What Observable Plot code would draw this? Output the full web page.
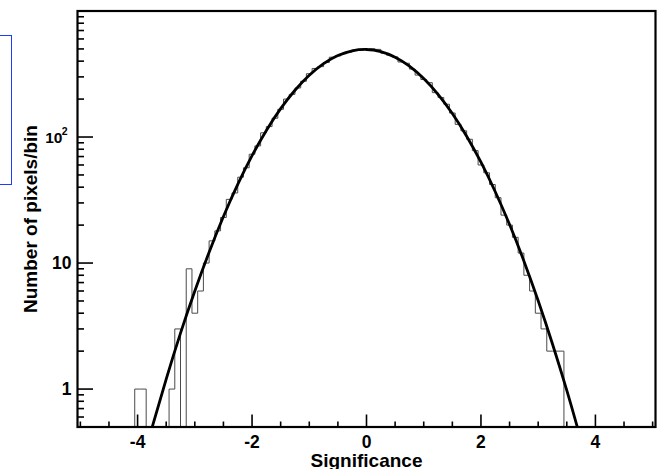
<!DOCTYPE html>
<html>
<head>
<meta charset="utf-8">
<script src="https://cdn.jsdelivr.net/npm/d3@7"></script>
<script src="https://cdn.jsdelivr.net/npm/@observablehq/plot@0.6"></script>
<style>
  html, body { margin: 0; padding: 0; background: #fff; }
  #wrap { position: relative; width: 659px; height: 469px; overflow: hidden; }
  #box { position: absolute; left: -3px; top: 35px; width: 13px; height: 148px; border: 1.5px solid rgb(30,60,255); }
</style>
</head>
<body>
<div id="wrap"><div id="box"></div></div>
<script>
// Histogram: 101 bins of width 0.1, centred on -5.0 ... 5.0
const binLow = -5.05;
const binWidth = 0.1;
const counts = [
  0,0,0,0,0,0,0,0,0,0,                      // -5.0 .. -4.1
  1,1,0,0,0,0,1,3,0,9,                      // -4.0 .. -3.1
  4,6,10,15,18,23,32,36,48,57,              // -3.0 .. -2.1
  73,85,108,121,141,166,200,218,245,277,    // -2.0 .. -1.1
  318,350,362,390,430,440,458,472,490,488,  // -1.0 .. -0.1
  496,502,496,462,446,432,394,385,346,310,  // 0.0 .. 0.9
  286,270,225,206,182,155,126,112,96,78,    // 1.0 .. 1.9
  60,52,42,33,24,20,16,12,8,6,              // 2.0 .. 2.9
  4,3,2,2,2,0,0,0,0,0,                      // 3.0 .. 3.9
  0,0,0,0,0,0,0,0,0,0,                      // 4.0 .. 4.9
  0                                         // 5.0
];
// Gaussian fit curve
const fitX = [-3.75,-3.5,-3.25,-3.0,-2.75,-2.5,-2.25,-2.0,-1.75,-1.5,-1.25,-1.0,-0.75,-0.5,-0.25,0,0.25,0.5,0.75,1.0,1.25,1.5,1.75,2.0,2.25,2.5,2.75,3.0,3.25,3.5,3.7];
const fitY = [0.49,1.2,2.78,6.0,12.2,23.4,42.1,71.1,112.8,168,235,309,382,443,483,495,476,430,365,291,218,153.5,101.5,63.1,36.8,20.2,10.4,5.02,2.28,0.975,0.47];
// Axis ticks and labels
const xMajor = [-4, -2, 0, 2, 4];
const xMinor = [-5, -4.5, -3.5, -3, -2.5, -1.5, -1, -0.5, 0.5, 1, 1.5, 2.5, 3, 3.5, 4.5, 5];
const yMajor = [1, 10, 100];
const yMinor = [0.6,0.7,0.8,0.9,2,3,4,5,6,7,8,9,20,30,40,50,60,70,80,90,200,300,400,500,600,700,800,900];
const yLabels = [{v: 1, t: "1"}, {v: 10, t: "10"}];
const yExpBase = [{v: 100, t: "10"}];
const yExpPow = [{v: 100, t: "2"}];

const floor = 0.3;
const steps = counts.map((c, i) => ({x: binLow + i * binWidth, y: c > 0 ? c : floor}));
steps.push({x: binLow + counts.length * binWidth, y: counts[counts.length - 1] > 0 ? counts[counts.length - 1] : floor});
const fit = fitX.map((x, i) => ({x, y: fitY[i]}));

const W = 659, H = 469, mL = 77, mR = 4, mT = 10.5, mB = 42.5;
const plotW = W - mL - mR, plotH = H - mT - mB;
const font = "'Liberation Sans', Arial, Helvetica, sans-serif";

const chart = Plot.plot({
  width: W, height: H,
  marginLeft: mL, marginRight: mR, marginTop: mT, marginBottom: mB,
  style: {fontFamily: font, background: "white", overflow: "visible"},
  x: {domain: [-5.05, 5.05], axis: null},
  y: {type: "log", domain: [0.5, 1000], axis: null},
  marks: [
    Plot.line(steps, {x: "x", y: "y", curve: "step-after", stroke: "#4a4a4a", strokeWidth: 1, clip: true}),
    Plot.line(fit, {x: "x", y: "y", curve: "natural", stroke: "black", strokeWidth: 2.8, clip: true}),
    Plot.tickX(xMajor, {x: d => d, stroke: "black", strokeWidth: 1.6, insetTop: plotH - 12}),
    Plot.tickX(xMinor, {x: d => d, stroke: "black", strokeWidth: 1.6, insetTop: plotH - 5}),
    Plot.tickY(yMajor, {y: d => d, stroke: "black", strokeWidth: 1.6, insetRight: plotW - 16}),
    Plot.tickY(yMinor, {y: d => d, stroke: "black", strokeWidth: 1.6, insetRight: plotW - 7}),
    Plot.frame({stroke: "black", strokeWidth: 2.2}),
    Plot.text(xMajor, {x: d => d, text: d => String(d), frameAnchor: "bottom", lineAnchor: "bottom", dy: 21, fontSize: 17.5, fontWeight: "bold", fill: "black"}),
    Plot.text(yLabels, {y: "v", text: "t", frameAnchor: "left", textAnchor: "end", dx: -6, fontSize: 17.5, fontWeight: "bold", fill: "black"}),
    Plot.text(yExpBase, {y: "v", text: "t", frameAnchor: "left", textAnchor: "end", dx: -15, dy: 1, fontSize: 15.5, fontWeight: "bold", fill: "black"}),
    Plot.text(yExpPow, {y: "v", text: "t", frameAnchor: "left", textAnchor: "end", dx: -10, dy: -5, fontSize: 10.5, fontWeight: "bold", fill: "black"}),
    Plot.text(["Significance"], {frameAnchor: "bottom", lineAnchor: "bottom", dy: 40, fontSize: 19, fontWeight: "bold", fill: "black"}),
    Plot.text(["Number of pixels/bin"], {frameAnchor: "left", textAnchor: "middle", rotate: -90, dx: -47, fontSize: 19, fontWeight: "bold", fill: "black"})
  ]
});
document.getElementById("wrap").prepend(chart);
</script>
</body>
</html>
